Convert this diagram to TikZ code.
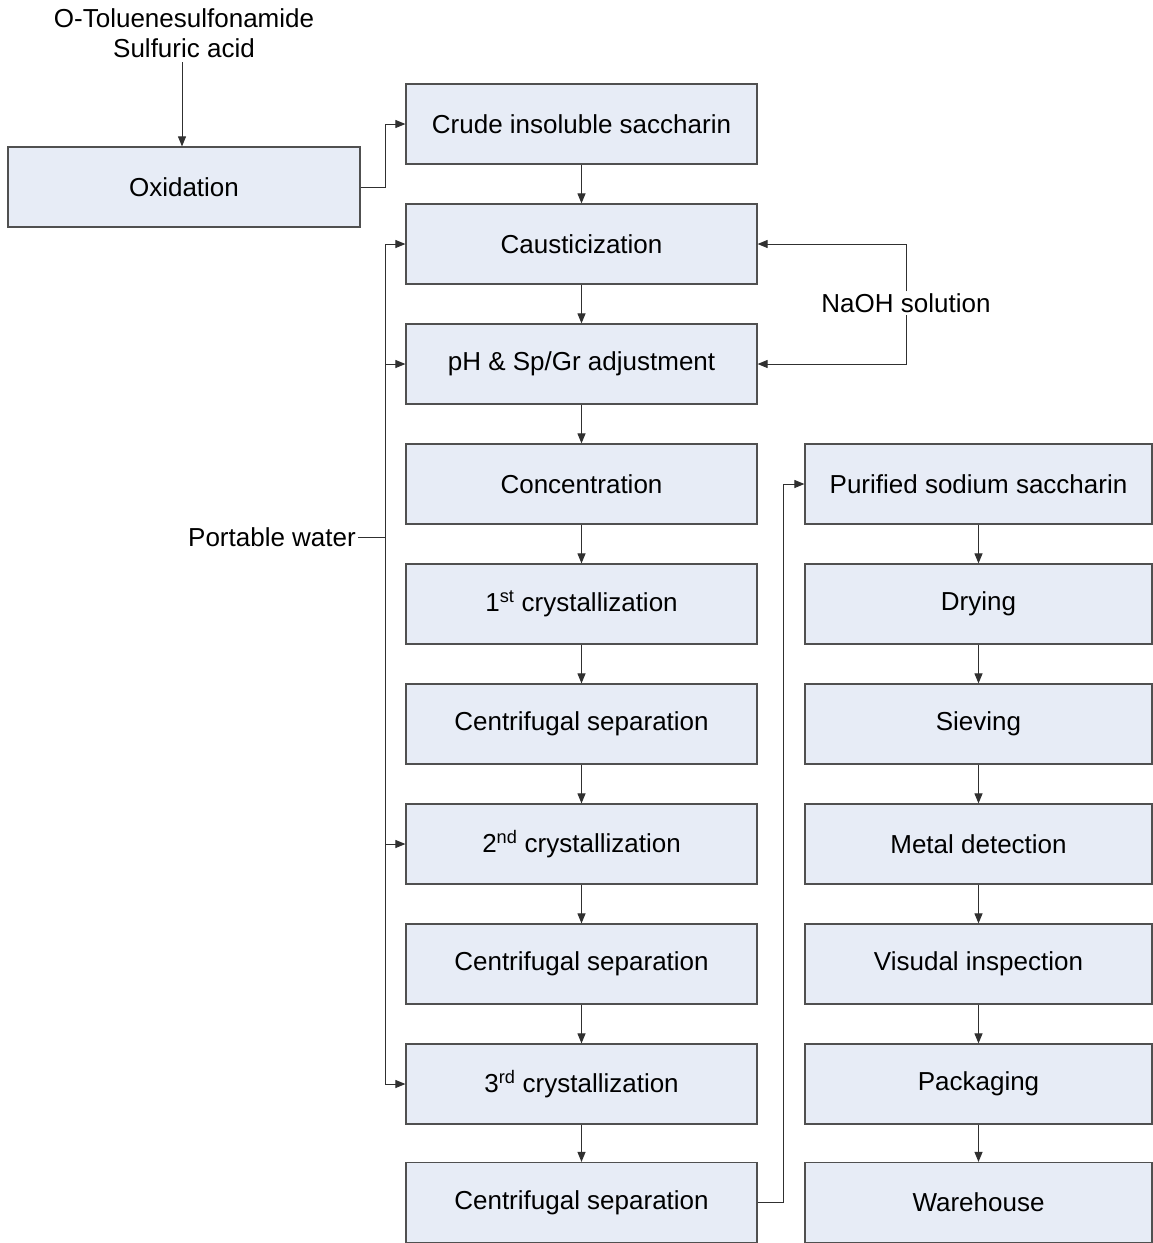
\documentclass[tikz,border=0pt]{standalone}
\usepackage{fontspec}
\setmainfont{Liberation Sans}
\usetikzlibrary{arrows.meta}
\definecolor{boxfill}{HTML}{E7ECF6}
\definecolor{boxline}{HTML}{505050}
\definecolor{arrline}{HTML}{303030}
\begin{document}
\begin{tikzpicture}[x=1pt,y=-1pt,
  box/.style={draw=boxline, fill=boxfill, line width=1.2pt, minimum width=351pt, minimum height=80pt, inner sep=0pt, font=\fontsize{26}{31}\selectfont},
  rbox/.style={box, minimum width=347pt},
  lbl/.style={font=\fontsize{26}{30}\selectfont, inner sep=2pt},
  arr/.style={draw=arrline, line width=1pt, -{Triangle[length=10pt,width=8pt]}},
  ln/.style={draw=arrline, line width=1pt}]
\useasboundingbox (0,0) rectangle (1153,1243);
% left
\node[box, minimum width=352pt] (ox) at (184,187) {Oxidation};
\node[lbl, align=center] (raw) at (184,33) {O-Toluenesulfonamide\\Sulfuric acid};
\coordinate (rawend) at (182,62);
% center column
\node[box] (crude) at (581.5,124) {Crude insoluble saccharin};
\node[box] (caust) at (581.5,244) {Causticization};
\node[box] (ph) at (581.5,364) {pH \& Sp/Gr adjustment};
\node[box] (conc) at (581.5,484) {Concentration};
\node[box] (c1) at (581.5,604) {1\textsuperscript{st} crystallization};
\node[box] (s1) at (581.5,724) {Centrifugal separation};
\node[box] (c2) at (581.5,844) {2\textsuperscript{nd} crystallization};
\node[box] (s2) at (581.5,964) {Centrifugal separation};
\node[box] (c3) at (581.5,1084) {3\textsuperscript{rd} crystallization};
\node[box] (s3) at (581.5,1202.5) {Centrifugal separation};
% right column
\node[rbox] (pur) at (978.5,484) {Purified sodium saccharin};
\node[rbox] (dry) at (978.5,604) {Drying};
\node[rbox] (siev) at (978.5,724) {Sieving};
\node[rbox] (metal) at (978.5,844) {Metal detection};
\node[rbox] (vis) at (978.5,964) {Visudal inspection};
\node[rbox] (pack) at (978.5,1084) {Packaging};
\node[rbox] (ware) at (978.5,1202.5) {Warehouse};
% labels
\node[lbl] (naoh) at (906,303) {NaOH solution};
\node[lbl, anchor=east] (pwl) at (358,537) {Portable water};
\coordinate (pw) at (385,537);
\coordinate (oxturn) at (385,187);
\coordinate (s3turn) at (783,1202.5);
% connectors
\draw[arr] (rawend) -- (rawend |- ox.north);
\draw[arr] (ox.east) -- (oxturn) |- (crude.west);
\foreach \a/\b in {crude/caust, caust/ph, ph/conc, conc/c1, c1/s1, s1/c2, c2/s2, s2/c3, c3/s3, pur/dry, dry/siev, siev/metal, metal/vis, vis/pack, pack/ware}
  \draw[arr] (\a.south) -- (\b.north);
\draw[arr] (naoh.north) |- (caust.east);
\draw[arr] (naoh.south) |- (ph.east);
\draw[ln] (pwl.east) -- (pw);
\draw[arr] (pw) |- (caust.west);
\draw[arr] (pw) |- (ph.west);
\draw[arr] (pw) |- (c2.west);
\draw[arr] (pw) |- (c3.west);
\draw[arr] (s3.east) -- (s3turn) |- (pur.west);
\end{tikzpicture}
\end{document}
